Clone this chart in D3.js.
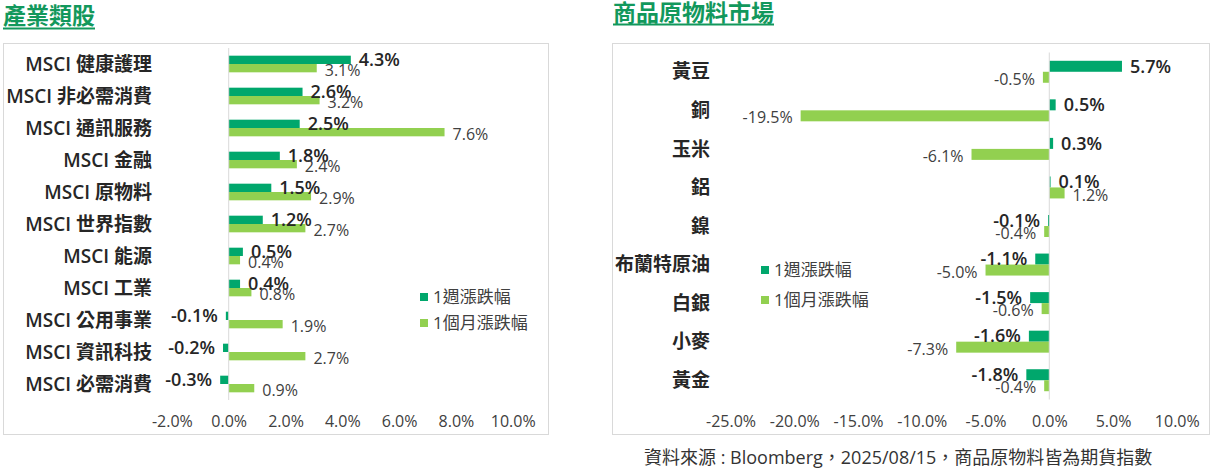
<!DOCTYPE html>
<html>
<head>
<meta charset="utf-8">
<script src="https://cdn.jsdelivr.net/npm/d3@7"></script>
<style>
  body { margin: 0; background: #fff; }
  svg { font-family: "Open Sans", "Noto Sans CJK TC", sans-serif; }
</style>
</head>
<body>
<div id="chart"></div>
<script>
// sector data (weekly / monthly % change)
const sectorNames = ["MSCI 健康護理", "MSCI 非必需消費", "MSCI 通訊服務", "MSCI 金融", "MSCI 原物料",
    "MSCI 世界指數", "MSCI 能源", "MSCI 工業", "MSCI 公用事業", "MSCI 資訊科技", "MSCI 必需消費"];
const sectorWeek = [4.3, 2.6, 2.5, 1.8, 1.5, 1.2, 0.5, 0.4, -0.1, -0.2, -0.3];
const sectorMonth = [3.1, 3.2, 7.6, 2.4, 2.9, 2.7, 0.4, 0.8, 1.9, 2.7, 0.9];
const sectorTicks = [-2, 0, 2, 4, 6, 8, 10];

// commodity data
const commodityNames = ["黃豆", "銅", "玉米", "鋁", "鎳", "布蘭特原油", "白銀", "小麥", "黃金"];
const commodityWeek = [5.7, 0.5, 0.3, 0.1, -0.1, -1.1, -1.5, -1.6, -1.8];
const commodityMonth = [-0.5, -19.5, -6.1, 1.2, -0.4, -5.0, -0.6, -7.3, -0.4];
const commodityTicks = [-25, -20, -15, -10, -5, 0, 5, 10];

const seriesNames = ["1週漲跌幅", "1個月漲跌幅"];
const titles = ["產業類股", "商品原物料市場"];
const sourceNote = "資料來源 : Bloomberg，2025/08/15，商品原物料皆為期貨指數";

const colors = ["#00a76c", "#92d050"];
const fmt = v => v.toFixed(1) + "%";

const svg = d3.select("#chart").append("svg")
    .attr("width", 1211)
    .attr("height", 470);

function drawPanel(opt) {
    const g = svg.append("g");

    // title with underline
    const title = g.append("text")
        .attr("x", opt.titleX)
        .attr("y", opt.titleY)
        .style("font-family", "'Noto Sans CJK TC', sans-serif")
        .style("font-size", "23px")
        .style("font-weight", "bold")
        .style("fill", "#12985c")
        .text(opt.title);
    const tw = title.node().getComputedTextLength();
    g.append("line")
        .attr("x1", opt.titleX).attr("x2", opt.titleX + tw)
        .attr("y1", opt.underY).attr("y2", opt.underY)
        .style("stroke", "#12985c")
        .style("stroke-width", 2);

    // frame
    g.append("rect")
        .attr("x", opt.box[0] + 0.5).attr("y", opt.box[1] + 0.5)
        .attr("width", opt.box[2]).attr("height", opt.box[3])
        .style("fill", "none")
        .style("stroke", "#d9d9d9");

    const x = d3.scaleLinear().domain(opt.domain).range(opt.xRange);
    const y = d3.scaleBand().domain(opt.names).range(opt.yRange)
        .paddingInner(opt.pad).paddingOuter(opt.pad / 2);
    const sub = d3.scaleBand().domain([0, 1]).range([0, y.bandwidth()]);

    // axis labels
    const axis = g.append("g")
        .attr("transform", `translate(0,${opt.yRange[1]})`)
        .call(d3.axisBottom(x).tickValues(opt.ticks).tickSize(0).tickPadding(16).tickFormat(fmt));
    axis.select(".domain").remove();
    axis.selectAll("text")
        .style("font-size", "16px")
        .style("font-family", "'Open Sans', sans-serif")
        .style("fill", "#404040");

    // category labels
    g.selectAll(".cat")
        .data(opt.names)
        .enter().append("text")
        .attr("x", opt.labelX)
        .attr("y", d => y(d) + y.bandwidth() / 2)
        .attr("dy", "0.35em")
        .style("text-anchor", "end")
        .style("font-size", "19px")
        .style("font-weight", 600)
        .style("fill", "#262626")
        .text(d => d);

    const series = [opt.week, opt.month];
    series.forEach((vals, s) => {
        g.selectAll(".bar" + s)
            .data(vals)
            .enter().append("rect")
            .attr("x", d => x(Math.min(0, d)))
            .attr("y", (d, i) => y(opt.names[i]) + sub(s))
            .attr("width", d => Math.abs(x(d) - x(0)))
            .attr("height", sub.bandwidth())
            .style("fill", colors[s]);
    });

    // zero line
    g.append("line")
        .attr("x1", x(0)).attr("x2", x(0))
        .attr("y1", opt.yRange[0]).attr("y2", opt.yRange[1])
        .style("stroke", "#d9d9d9")
        .style("stroke-width", 1);

    // data labels, weekly bigger and bolder
    series.forEach((vals, s) => {
        g.selectAll(".lab" + s)
            .data(vals)
            .enter().append("text")
            .attr("x", d => x(d) + (d >= 0 ? 8 : -8))
            .attr("y", (d, i) => y(opt.names[i]) + sub(s) + sub.bandwidth() / 2 + (s ? 2 : 0))
            .attr("dy", "0.35em")
            .style("text-anchor", d => d >= 0 ? "start" : "end")
            .style("font-size", s ? "16px" : "18px")
            .style("font-weight", s ? 400 : 600)
            .style("fill", s ? "#404040" : "#262626")
            .text(fmt);
    });

    // legend
    seriesNames.forEach((name, s) => {
        const ly = opt.legendY[s];
        g.append("rect")
            .attr("x", opt.legendX).attr("y", ly - 4)
            .attr("width", 8).attr("height", 8)
            .style("fill", colors[s]);
        g.append("text")
            .attr("x", opt.legendX + 13)
            .attr("y", ly)
            .attr("dy", "0.35em")
            .style("font-size", "17px")
            .style("fill", "#404040")
            .text(name);
    });
}

drawPanel({
    title: titles[0], titleX: 3, titleY: 24, underY: 28.5,
    box: [3, 43, 545, 391],
    names: sectorNames, week: sectorWeek, month: sectorMonth, ticks: sectorTicks,
    domain: [-2, 10], xRange: [171.9, 512.7], yRange: [48, 400], pad: 0.48,
    labelX: 152, legendX: 420, legendY: [297, 323]
});

drawPanel({
    title: titles[1], titleX: 613, titleY: 21, underY: 24.5,
    box: [612, 43, 597, 391],
    names: commodityNames, week: commodityWeek, month: commodityMonth, ticks: commodityTicks,
    domain: [-25, 10], xRange: [730.5, 1176.8], yRange: [52.5, 399.5], pad: 0.43,
    labelX: 710, legendX: 761, legendY: [270, 300]
});

svg.append("text")
    .attr("x", 644)
    .attr("y", 458)
    .attr("dy", "0.35em")
    .style("font-size", "18px")
    .style("fill", "#333")
    .text(sourceNote);
</script>
</body>
</html>
